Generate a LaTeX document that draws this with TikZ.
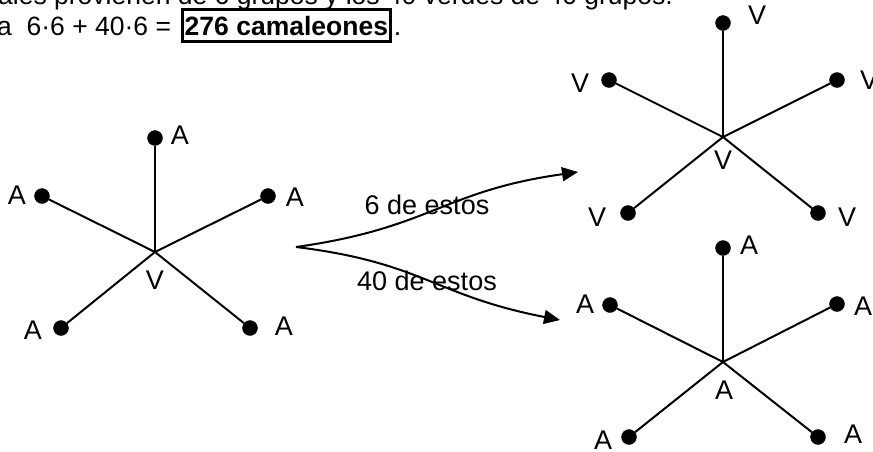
\documentclass[tikz,border=0pt]{standalone}
\usepackage{fontspec}
\setmainfont{Liberation Sans}
\usetikzlibrary{arrows.meta,positioning}
\tikzset{
  punto/.style={draw,circle,fill,inner sep=0pt,minimum size=15pt},
  letra/.style={inner sep=0pt},
  radio/.style={draw,line width=2pt},
  flecha/.style={draw,line width=2pt,-{Triangle[length=16pt,width=14pt]}},
  caja/.style={draw,line width=3pt,inner sep=0pt,inner xsep=2pt,text height=26pt,text depth=6.5pt}
}
\begin{document}
\begin{tikzpicture}[x=1pt,y=-1pt,font=\fontsize{27}{32}\selectfont]
\clip (0,0) rectangle (873,451);
% texto de arriba
\begin{scope}[font=\fontsize{26.5}{31}\selectfont]
\node[letra,anchor=base west] (linea1) at (-2,4) {ales provienen de 6 grupos y los 40 verdes de 40 grupos.};
\node[letra,anchor=base west] (linea2) at (-3,35) {a\ \ 6·6 + 40·6 =};
\node[caja,anchor=base west] (total) at ([xshift=10pt]linea2.base east) {\textbf{276 camaleones}};
\node[letra,anchor=base west] (punto) at ([xshift=2pt]total.base east) {.};
\end{scope}
% estrella de la izquierda
\coordinate (ci) at (155,252);
\node[punto] (i1) at (155,138) {};
\node[punto] (i2) at (42,196) {};
\node[punto] (i3) at (268,196) {};
\node[punto] (i4) at (61,328) {};
\node[punto] (i5) at (250,328) {};
\path[radio] (ci) -- (i1);
\path[radio] (ci) -- (i2);
\path[radio] (ci) -- (i3);
\path[radio] (ci) -- (i4);
\path[radio] (ci) -- (i5);
\node[letra] (li1) at (180,135) {A};
\node[letra] (li2) at (17,195) {A};
\node[letra] (li3) at (295,197) {A};
\node[letra] (li4) at (33,330) {A};
\node[letra] (li5) at (284,326) {A};
\node[letra] (lci) at (155,280) {V};
% estrella de arriba a la derecha
\coordinate (cs) at (723,137);
\node[punto] (s1) at (723,23) {};
\node[punto] (s2) at (609,80) {};
\node[punto] (s3) at (837,80) {};
\node[punto] (s4) at (628,213) {};
\node[punto] (s5) at (818,213) {};
\path[radio] (cs) -- (s1);
\path[radio] (cs) -- (s2);
\path[radio] (cs) -- (s3);
\path[radio] (cs) -- (s4);
\path[radio] (cs) -- (s5);
\node[letra] (ls1) at (757,15) {V};
\node[letra] (ls2) at (580,83) {V};
\node[letra] (ls3) at (869,80) {V};
\node[letra] (ls4) at (597,217) {V};
\node[letra] (ls5) at (847,217) {V};
\node[letra] (lcs) at (723,160) {V};
% estrella de abajo a la derecha
\coordinate (cf) at (723,362);
\node[punto] (f1) at (723,248) {};
\node[punto] (f2) at (610,305) {};
\node[punto] (f3) at (837,304) {};
\node[punto] (f4) at (629,437) {};
\node[punto] (f5) at (818,437) {};
\path[radio] (cf) -- (f1);
\path[radio] (cf) -- (f2);
\path[radio] (cf) -- (f3);
\path[radio] (cf) -- (f4);
\path[radio] (cf) -- (f5);
\node[letra] (lf1) at (749,245) {A};
\node[letra] (lf2) at (585,304) {A};
\node[letra] (lf3) at (863,306) {A};
\node[letra] (lf4) at (603,440) {A};
\node[letra] (lf5) at (853,434) {A};
\node[letra] (lcf) at (724,390) {A};
% flechas
\coordinate (ramas) at (296,247);
\coordinate (fin1) at (578,172);
\coordinate (fin2) at (560,320);
\path[flecha] (ramas) to[out=8,in=188,looseness=1.2] (fin1);
\path[flecha] (ramas) to[out=-7,in=169,looseness=1.2] (fin2);
\node[letra] (seis) at (427,205) {6 de estos};
\node[letra] (cuarenta) at (427,281) {40 de estos};
\end{tikzpicture}
\end{document}
